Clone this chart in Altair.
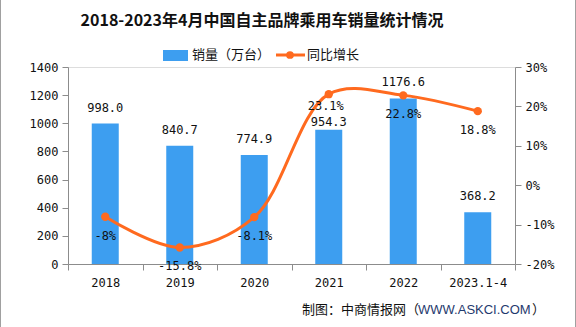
import altair as alt
import pandas as pd

years = ["2018", "2019", "2020", "2021", "2022", "2023.1-4"]
sales = [998.0, 840.7, 774.9, 954.3, 1176.6, 368.2]
growth = [-8.0, -15.8, -8.1, 23.1, 22.8, 18.8]
growth_labels = ["-8%", "-15.8%", "-8.1%", "23.1%", "22.8%", "18.8%"]
sales_labels = ["998.0", "840.7", "774.9", "954.3", "1176.6", "368.2"]

title_text = "2018-2023年4月中国自主品牌乘用车销量统计情况"
legend_bar = "销量（万台）"
legend_line = "同比增长"
footer_a = "制图：中商情报网（"
footer_b = "WWW.ASKCI.COM"
footer_c = "）"

df = pd.DataFrame({"year": years, "sales": sales, "growth": growth,
                   "glabel": growth_labels, "slabel": sales_labels})

BLUE = "#3D9EF0"
ORANGE = "#FF6A1F"
AX = "#8c8c8c"
NUM_FONT = "DejaVu Sans Mono"
CJK = "Noto Sans CJK SC"

W, H = 447, 197
L, T = 68, 67

xenc = alt.X("year:N", sort=years, title=None,
             scale=alt.Scale(paddingInner=0, paddingOuter=0),
             axis=alt.Axis(labelAngle=0, domainColor=AX, tickColor=AX, tickBand="extent",
                           tickSize=6, labelPadding=7, labelFont=NUM_FONT, labelFontSize=12,
                           labelColor="#111", grid=False))

yleft = alt.Y("sales:Q", title=None,
              scale=alt.Scale(domain=[0, 1400], nice=False),
              axis=alt.Axis(values=list(range(0, 1401, 200)), orient="left", domainColor=AX,
                            tickColor=AX, tickSize=6, labelPadding=4, labelFont=NUM_FONT,
                            labelFontSize=12, labelColor="#111", grid=False, format="d"))

yright = alt.Y("growth:Q", title=None,
               scale=alt.Scale(domain=[-20, 30], nice=False),
               axis=alt.Axis(values=[-20, -10, 0, 10, 20, 30], orient="right", domainColor=AX,
                             tickColor=AX, tickSize=6, labelPadding=4, labelFont=NUM_FONT,
                             labelFontSize=12, labelColor="#111", grid=False,
                             labelExpr="datum.value + '%'"))

bars = alt.Chart(df).mark_bar(size=27, color=BLUE).encode(x=xenc, y=yleft)
bar_text = alt.Chart(df).mark_text(dy=-16, font=NUM_FONT, fontSize=12, color="#111",
                                   baseline="middle").encode(
    x=xenc, y=yleft, text="slabel:N").transform_filter("datum.year != '2021'")
bar_text_b = alt.Chart(df).mark_text(dy=-8, font=NUM_FONT, fontSize=12, color="#111",
                                     baseline="middle").encode(
    x=xenc, y=yleft, text="slabel:N").transform_filter("datum.year == '2021'")

line = alt.Chart(df).mark_line(color=ORANGE, strokeWidth=3, interpolate="catmull-rom").encode(
    x=xenc, y=yright)
pts = alt.Chart(df).mark_point(filled=True, size=70, color=ORANGE, opacity=1).encode(
    x=xenc, y=yright)
line_text = alt.Chart(df).mark_text(dy=19, font=NUM_FONT, fontSize=12, color="#111",
                                    baseline="middle").encode(
    x=xenc, y=yright, text="glabel:N").transform_filter("datum.year != '2021'")
line_text_b = alt.Chart(df).mark_text(dy=12, dx=-3, font=NUM_FONT, fontSize=12, color="#111",
                                      baseline="middle").encode(
    x=xenc, y=yright, text="glabel:N").transform_filter("datum.year == '2021'")

one = pd.DataFrame({"k": [0]})


def txt(s, x, y, **kw):
    return alt.Chart(one).mark_text(text=s, **kw).encode(x=alt.value(x - L), y=alt.value(y - T))


title = txt(title_text, 262, 21, font=CJK, fontSize=16, fontWeight="bold", color="#111",
            align="center", baseline="middle")
leg_rect = alt.Chart(one).mark_rect(color=BLUE).encode(
    x=alt.value(163 - L), x2=alt.value(188 - L), y=alt.value(50 - T), y2=alt.value(61 - T))
leg_t1 = txt(legend_bar, 192, 55, font=CJK, fontSize=13, color="#111", align="left",
             baseline="middle")
leg_line = alt.Chart(one).mark_rule(color=ORANGE, strokeWidth=3).encode(
    x=alt.value(276 - L), x2=alt.value(305 - L), y=alt.value(55 - T))
leg_pt = alt.Chart(one).mark_point(filled=True, size=60, color=ORANGE, opacity=1).encode(
    x=alt.value(290 - L), y=alt.value(55 - T))
leg_t2 = txt(legend_line, 307, 55, font=CJK, fontSize=13, color="#111", align="left",
             baseline="middle")
foot_a = txt(footer_a, 302, 310, font=CJK, fontSize=13, color="#111", align="left",
             baseline="middle")
foot_b = txt(footer_b, 418, 310, font="Liberation Sans", fontSize=13, color="#1f3a6e",
             align="left", baseline="middle")
foot_c = txt(footer_c, 532, 310, font=CJK, fontSize=13, color="#111", align="left",
             baseline="middle")
border = alt.Chart(one).mark_rule(color="#a0a0a0", strokeWidth=1).encode(
    x=alt.value(0.5 - L), y=alt.value(-T), y2=alt.value(327 - T))
border2 = alt.Chart(one).mark_rule(color="#a0a0a0", strokeWidth=1).encode(
    x=alt.value(575.5 - L), y=alt.value(-T), y2=alt.value(327 - T))

left_group = alt.layer(bars, bar_text, bar_text_b)
right_group = alt.layer(line, pts, line_text, line_text_b)

chart = alt.layer(
    left_group, right_group,
    title, leg_rect, leg_t1, leg_line, leg_pt, leg_t2, foot_a, foot_b, foot_c, border, border2
).resolve_scale(y="independent").properties(
    width=W, height=H,
    autosize=alt.AutoSizeParams(type="none"),
    padding={"left": L, "top": T, "right": 576 - L - W, "bottom": 327 - T - H},
).configure_view(stroke=None).configure(background="white")

chart.save("out.html", embed_options={"renderer": "svg", "actions": False})
